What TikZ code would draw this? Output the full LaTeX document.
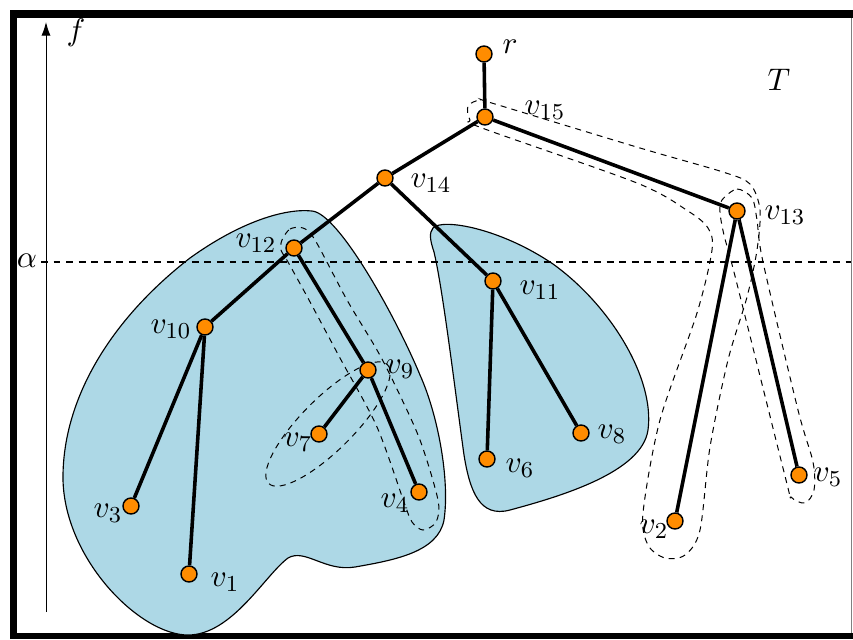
\documentclass[tikz,border=0pt]{standalone}
\usetikzlibrary{arrows.meta}
\definecolor{nodeorange}{RGB}{255,140,0}
\definecolor{blobblue}{RGB}{173,216,230}
\begin{document}
\begin{tikzpicture}[x=0.35pt,y=-0.35pt,font=\fontsize{11}{13}\selectfont,
  vert/.style={circle,fill=nodeorange,draw=black,line width=0.5pt,minimum size=5.6pt,inner sep=0pt},
  treeedge/.style={line width=1.25pt},
  loopline/.style={dash pattern=on 2.1pt off 1.8pt,line width=0.35pt},
  blob/.style={fill=blobblue,draw=black,line width=0.4pt},
  lbl/.style={inner sep=0pt}]
\useasboundingbox (0,0) rectangle (853,639);
\fill[white] (0,0) rectangle (853,639);
% frame
\fill[black] (10,10) rectangle (17,639);
\fill[black] (10,10) rectangle (853,18);
\fill[black] (10,633) rectangle (853,639);
\draw[gray,line width=0.35pt] (851.5,18) -- (851.5,633);
% blue regions
\path[blob] (312,211)
  .. controls (338,213) and (395,315) .. (420,375)
  .. controls (438,415) and (450,480) .. (444,520)
  .. controls (438,552) and (395,560) .. (355,567)
  .. controls (325,572) and (305,548) .. (288,558)
  .. controls (265,575) and (232,635) .. (188,635)
  .. controls (140,635) and (65,560) .. (63,480)
  .. controls (62,400) and (110,320) .. (190,258)
  .. controls (240,222) and (285,208) .. (312,211) -- cycle;
\path[blob] (433,228)
  .. controls (442,218) and (500,228) .. (553,264)
  .. controls (610,305) and (655,378) .. (648,430)
  .. controls (642,472) and (562,496) .. (510,510)
  .. controls (480,518) and (470,492) .. (464,455)
  .. controls (455,390) and (443,290) .. (434,252)
  .. controls (430,240) and (429,233) .. (433,228) -- cycle;
% dashed loops
\draw[loopline] plot[smooth cycle,tension=0.5] coordinates {
 (468,106) (480,100) (495,104) (640,148) (723,172) (750,184) (760,210) (757,250)
 (747,297) (728,360) (710,447) (700,530) (685,555) (665,558) (648,545) (643,513)
 (660,420) (697,313) (712,250) (708,228) (688,211) (637,183) (482,128) (470,120)};
\draw[loopline] plot[smooth cycle,tension=0.5] coordinates {
 (722,200) (737,189) (752,198) (757,220) (763,262) (798,410) (813,462) (814,490)
 (805,503) (791,497) (786,480) (736,280) (724,235) (720,212)};
\draw[loopline] plot[smooth cycle,tension=0.5] coordinates {
 (282,240) (290,229) (303,228) (315,240) (347,300) (377,350) (395,385) (420,440)
 (438,500) (436,522) (423,530) (412,522) (405,505) (377,427) (340,358) (309,300)
 (288,262) (281,250)};
\draw[loopline,rotate around={45:(328,424)}] (328,424) ellipse [x radius=84,y radius=26];
% axis and threshold
\coordinate (axb) at (46,612);
\coordinate (axt) at (46,22);
\draw[line width=0.35pt,-{Latex[length=4.8pt,width=3.2pt]}] (axb) -- (axt);
\coordinate (al0) at (41,262);
\coordinate (al1) at (851,262);
\draw[dash pattern=on 2.4pt off 2pt,line width=0.4pt] (al0) -- (al1);
\node[lbl] (lf) at (76,33) {$f$};
\node[lbl] (lal) at (27,261) {$\alpha$};
\node[lbl] (lT) at (779,80) {$T$};
% vertices
\node[vert] (r) at (484,54) {};
\node[vert] (v15) at (485,117) {};
\node[vert] (v14) at (385,178) {};
\node[vert] (v13) at (737,211) {};
\node[vert] (v12) at (294,248) {};
\node[vert] (v11) at (493,281) {};
\node[vert] (v10) at (205,327) {};
\node[vert] (v9) at (368,370) {};
\node[vert] (v7) at (319,434) {};
\node[vert] (v8) at (581,433) {};
\node[vert] (v6) at (487,459) {};
\node[vert] (v4) at (419,492) {};
\node[vert] (v3) at (131,506) {};
\node[vert] (v5) at (799,475) {};
\node[vert] (v2) at (675,521) {};
\node[vert] (v1) at (189,574) {};
% edges
\draw[treeedge] (r) -- (v15);
\draw[treeedge] (v15) -- (v14);
\draw[treeedge] (v15) -- (v13);
\draw[treeedge] (v14) -- (v12);
\draw[treeedge] (v14) -- (v11);
\draw[treeedge] (v12) -- (v10);
\draw[treeedge] (v12) -- (v9);
\draw[treeedge] (v10) -- (v3);
\draw[treeedge] (v10) -- (v1);
\draw[treeedge] (v9) -- (v7);
\draw[treeedge] (v9) -- (v4);
\draw[treeedge] (v11) -- (v6);
\draw[treeedge] (v11) -- (v8);
\draw[treeedge] (v13) -- (v2);
\draw[treeedge] (v13) -- (v5);
% labels
\node[lbl] (lr) at (510,47) {$r$};
\node[lbl] (l15) at (545,110) {$v_{15}$};
\node[lbl] (l14) at (431,183) {$v_{14}$};
\node[lbl] (l13) at (785,215) {$v_{13}$};
\node[lbl] (l12) at (256,243) {$v_{12}$};
\node[lbl] (l11) at (540,290) {$v_{11}$};
\node[lbl] (l10) at (171,329) {$v_{10}$};
\node[lbl] (l9) at (400,369) {$v_{9}$};
\node[lbl] (l7) at (298,442) {$v_{7}$};
\node[lbl] (l8) at (612,434) {$v_{8}$};
\node[lbl] (l6) at (520,468) {$v_{6}$};
\node[lbl] (l4) at (395,503) {$v_{4}$};
\node[lbl] (l3) at (108,513) {$v_{3}$};
\node[lbl] (l5) at (828,477) {$v_{5}$};
\node[lbl] (l2) at (654,529) {$v_{2}$};
\node[lbl] (l1) at (225,582) {$v_{1}$};
\end{tikzpicture}
\end{document}
